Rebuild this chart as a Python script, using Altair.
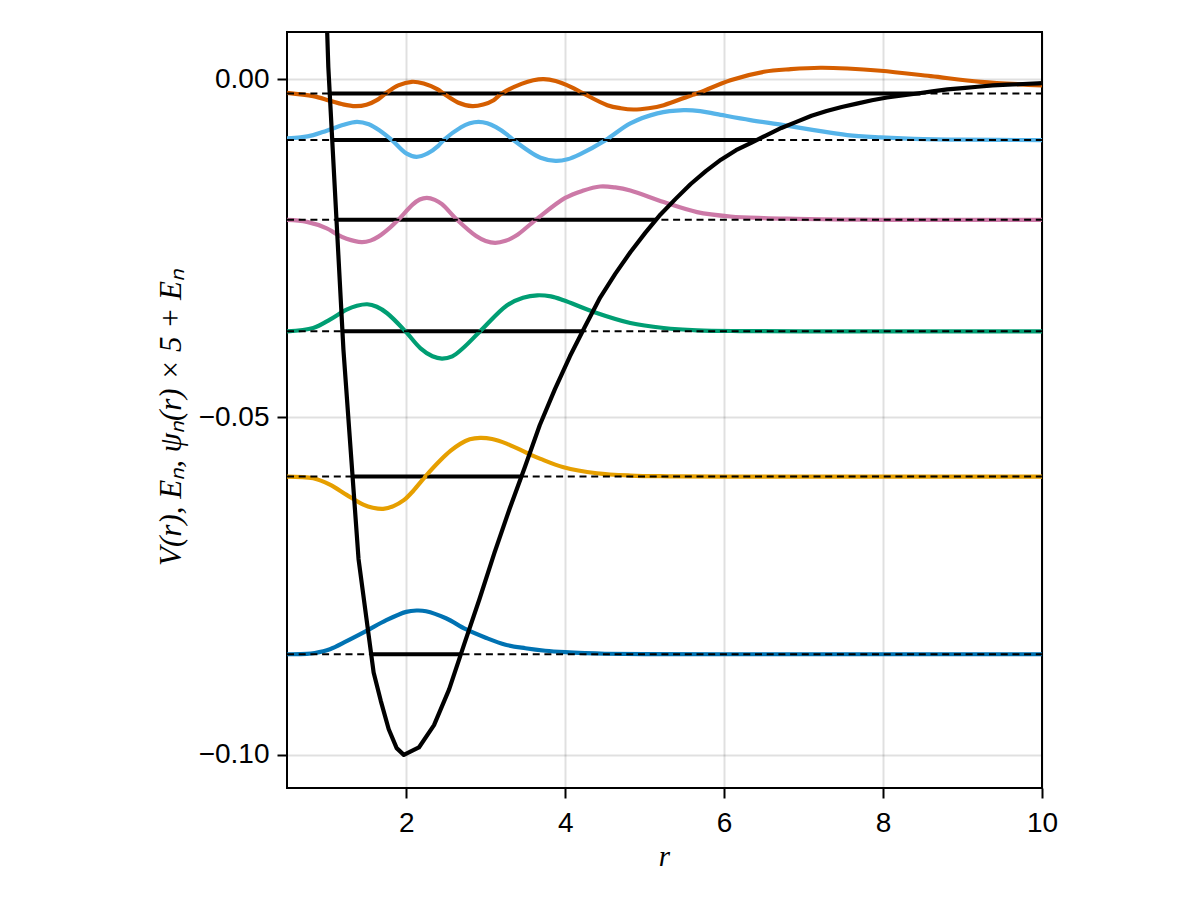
import altair as alt
import pandas as pd

# ---------------- data ----------------
levels = [0, 1, 2, 3, 4, 5]
energies = [-0.0851, -0.0588, -0.0373, -0.0208, -0.0090, -0.0021]
turn_left = [1.546, 1.315, 1.197, 1.125, 1.062, 1.036]
turn_right = [2.684, 3.452, 4.225, 5.144, 6.410, 8.470]
colors = ["#0072B2", "#E69F00", "#009E73", "#CC79A7", "#56B4E9", "#D55E00"]

# potential V(r) (polyline vertices)
pot_r = [0.83, 1.02, 1.21, 1.40, 1.59, 1.68, 1.78, 1.88, 1.97, 2.16, 2.35, 2.54, 2.73,
         2.92, 3.11, 3.30, 3.49, 3.68, 3.87, 4.06, 4.25, 4.44, 4.63, 4.82, 5.01, 5.20,
         5.39, 5.58, 5.77, 5.96, 6.15, 6.34, 6.53, 6.72, 6.91, 7.10, 7.29, 7.48, 7.67,
         7.86, 8.05, 8.24, 8.43, 8.62, 8.81, 9.00, 9.19, 9.38, 9.57, 9.76, 9.95, 10.14]
pot_v = [0.0703, 0.0018, -0.0400, -0.0710, -0.0878, -0.0920, -0.0962, -0.0990, -0.1000,
         -0.0989, -0.0956, -0.0903, -0.0836, -0.0770, -0.0701, -0.0636, -0.0575, -0.0512,
         -0.0459, -0.0410, -0.0366, -0.0323, -0.0288, -0.0256, -0.0227, -0.0200, -0.0177,
         -0.0155, -0.0136, -0.0119, -0.0105, -0.0094, -0.0083, -0.0072, -0.0063, -0.0054,
         -0.0047, -0.0041, -0.0036, -0.0031, -0.0027, -0.0024, -0.0021, -0.0018, -0.0015,
         -0.0013, -0.0011, -0.0009, -0.0008, -0.0007, -0.0006, -0.0005]

# wavefunctions psi_n(r) * 5 (offset from E_n)
r0 = [0.5, 0.75, 0.85, 1.04, 1.25, 1.5, 1.75, 2.0, 2.13, 2.25, 2.5, 2.75, 3.0, 3.25, 3.5,
      3.75, 4.0, 4.25, 4.5, 5.0, 6.0, 10.0]
d0 = [0, 0.00004, 0.00018, 0.00074, 0.00193, 0.00345, 0.00504, 0.00627, 0.00647, 0.00637,
      0.00533, 0.00370, 0.00244, 0.00141, 0.00089, 0.00052, 0.00030, 0.00016, 0.00007,
      0.00002, 0, 0]

r1 = [0.5, 0.83, 1.04, 1.25, 1.46, 1.58, 1.71, 1.84, 1.97, 2.09, 2.24, 2.43, 2.56, 2.68,
      2.80, 2.93, 3.08, 3.27, 3.52, 3.69, 3.98, 4.40, 4.82, 5.3, 6.0, 10.0]
d1 = [0, -0.00025, -0.00119, -0.00271, -0.00415, -0.00462, -0.00479, -0.00437, -0.00350,
      -0.00210, 0, 0.00240, 0.00382, 0.00484, 0.00551, 0.00573, 0.00556, 0.00484, 0.00348,
      0.00262, 0.00138, 0.00049, 0.00015, 0.00004, 0, 0]

r2 = [0.5, 0.83, 1.04, 1.25, 1.38, 1.51, 1.63, 1.76, 1.99, 2.18, 2.33, 2.45, 2.58, 2.72,
      2.93, 3.27, 3.47, 3.65, 3.82, 3.98, 4.36, 4.82, 5.24, 5.66, 6.2, 7.0, 10.0]
d2 = [0, 0.00049, 0.00173, 0.00321, 0.00378, 0.00400, 0.00363, 0.00267, 0, -0.00252,
      -0.00370, -0.00404, -0.00370, -0.00244, 0, 0.00385, 0.00496, 0.00533, 0.00516,
      0.00459, 0.00286, 0.00123, 0.00049, 0.00015, 0.00003, 0, 0]

r3 = [0.5, 0.75, 1.0, 1.13, 1.25, 1.44, 1.55, 1.65, 1.80, 1.90, 2.08, 2.17, 2.26, 2.36,
      2.45, 2.64, 2.88, 3.00, 3.12, 3.25, 3.38, 3.63, 4.0, 4.22, 4.44, 4.63, 4.82, 5.24,
      5.66, 6.08, 6.5, 6.9, 7.5, 8.0, 10.0]
d3 = [0, -0.00030, -0.00126, -0.00215, -0.00281, -0.00330, -0.00308, -0.00249, -0.00111,
      0, 0.00225, 0.00301, 0.00326, 0.00296, 0.00231, 0, -0.00241, -0.00314, -0.00341,
      -0.00311, -0.00237, 0, 0.00324, 0.00430, 0.00493, 0.00479, 0.00434, 0.00262,
      0.00114, 0.00049, 0.00025, 0.00015, 0.00004, 0, 0]

r4 = [0.5, 0.67, 0.83, 0.95, 1.04, 1.2, 1.38, 1.53, 1.67, 1.82, 2.0, 2.13, 2.27, 2.40,
      2.47, 2.69, 2.80, 2.91, 3.02, 3.13, 3.27, 3.35, 3.69, 3.88, 4.03, 4.19, 4.51, 4.82,
      5.16, 5.49, 5.70, 5.91, 6.33, 6.75, 7.13, 7.55, 7.97, 8.39, 9.0, 10.0]
d4 = [0.00025, 0.00041, 0.00074, 0.00119, 0.00156, 0.00222, 0.00271, 0.00234, 0.00139, 0,
      -0.00196, -0.00247, -0.00197, -0.00089, 0, 0.00191, 0.00250, 0.00271, 0.00250,
      0.00191, 0.00081, 0, -0.00262, -0.00307, -0.00284, -0.00207, 0, 0.00247, 0.00396,
      0.00444, 0.00430, 0.00385, 0.00296, 0.00222, 0.00148, 0.00074, 0.00040, 0.00019,
      0.00006, 0]

r5 = [0.5, 0.83, 1.04, 1.2, 1.36, 1.50, 1.63, 1.74, 1.9, 2.07, 2.22, 2.39, 2.47, 2.65,
      2.83, 2.97, 3.10, 3.20, 3.45, 3.60, 3.73, 3.88, 4.07, 4.23, 4.53, 4.70, 4.86, 5.05,
      5.24, 5.59, 5.66, 6.08, 6.50, 6.84, 7.21, 7.55, 7.97, 8.60, 9.23, 10.0]
d5 = [0.00010, -0.00040, -0.00108, -0.00160, -0.00188, -0.00167, -0.00099, 0, 0.00119,
      0.00173, 0.00148, 0.00064, 0, -0.00133, -0.00188, -0.00163, -0.00099, 0, 0.00142,
      0.00196, 0.00212, 0.00184, 0.00099, 0, -0.00173, -0.00219, -0.00237, -0.00218,
      -0.00173, -0.00025, 0, 0.00197, 0.00321, 0.00360, 0.00381, 0.00370, 0.00336,
      0.00256, 0.00173, 0.00119]

x_ticks = [2, 4, 6, 8, 10]
y_ticks = [-0.10, -0.05, 0.00]
x_domain = [0.5, 10.0]
y_domain = [-0.1049, 0.0070]

# ---------------- tables ----------------
wave_r = [r0, r1, r2, r3, r4, r5]
wave_d = [d0, d1, d2, d3, d4, d5]
rows = []
for n, rs, ds in zip(levels, wave_r, wave_d):
    for i, (r, d) in enumerate(zip(rs, ds)):
        rows.append({"n": n, "i": i, "r": r, "y": energies[n] + d})
waves = pd.DataFrame(rows)

lev = pd.DataFrame({"n": levels, "E": energies, "a": turn_left, "b": turn_right,
                    "x0": [x_domain[0]] * 6, "x1": [x_domain[1]] * 6})
pot = pd.DataFrame({"r": pot_r, "V": pot_v, "i": list(range(len(pot_r)))})

# ---------------- encodings ----------------
xs = alt.Scale(domain=x_domain, nice=False, zero=False)
ys = alt.Scale(domain=y_domain, nice=False, zero=False)

x_axis = alt.Axis(values=x_ticks, format="d", title="r",
                  titleFont="Liberation Serif", titleFontStyle="italic",
                  titleFontWeight="normal", titleFontSize=29, titleColor="black",
                  titleX=377, titleY=77, titleBaseline="alphabetic", titleAlign="center",
                  labelPadding=11, labelFlush=False)
y_axis = alt.Axis(values=y_ticks, format=".2f",
                  title="V(r),  Eₙ,  ψₙ(r) × 5 + Eₙ",
                  titleFont="Liberation Serif", titleFontStyle="italic",
                  titleFontWeight="normal", titleFontSize=31, titleColor="black",
                  titleX=-107, titleY=385, titleAngle=270, titleBaseline="alphabetic",
                  titleAlign="center", labelPadding=8, labelFlush=False)

seg = alt.Chart(lev).mark_rule(color="black", strokeWidth=4).encode(
    x=alt.X("a:Q", scale=xs, axis=x_axis), x2="b:Q",
    y=alt.Y("E:Q", scale=ys, axis=y_axis))

wave = alt.Chart(waves).mark_line(strokeWidth=4.2, interpolate="catmull-rom", clip=True).encode(
    x=alt.X("r:Q", scale=xs, axis=x_axis),
    y=alt.Y("y:Q", scale=ys, axis=y_axis),
    color=alt.Color("n:N", scale=alt.Scale(domain=levels, range=colors), legend=None),
    order="i:Q")

dots = alt.Chart(lev).mark_rule(color="black", strokeWidth=2, strokeDash=[7, 4.7]).encode(
    x=alt.X("x0:Q", scale=xs, axis=x_axis), x2="x1:Q",
    y=alt.Y("E:Q", scale=ys, axis=y_axis))

potl = alt.Chart(pot).mark_line(color="black", strokeWidth=4.2, clip=True,
                                strokeJoin="round").encode(
    x=alt.X("r:Q", scale=xs, axis=x_axis),
    y=alt.Y("V:Q", scale=ys, axis=y_axis),
    order="i:Q")

chart = alt.layer(seg, wave, dots, potl).properties(
    width=755, height=756,
    autosize=alt.AutoSizeParams(type="none"),
    padding={"left": 279, "top": 24, "right": 150, "bottom": 100},
    background="white",
).configure_view(stroke="black", strokeWidth=2).configure_axis(
    domain=False, grid=True, gridColor="black", gridOpacity=0.12, gridWidth=2,
    ticks=True, tickSize=10, tickWidth=2, tickColor="black",
    labelFont="Liberation Sans", labelFontSize=28, labelColor="black",
    labelOverlap=False,
)

chart.save("out.html", embed_options={"renderer": "svg", "actions": False})
